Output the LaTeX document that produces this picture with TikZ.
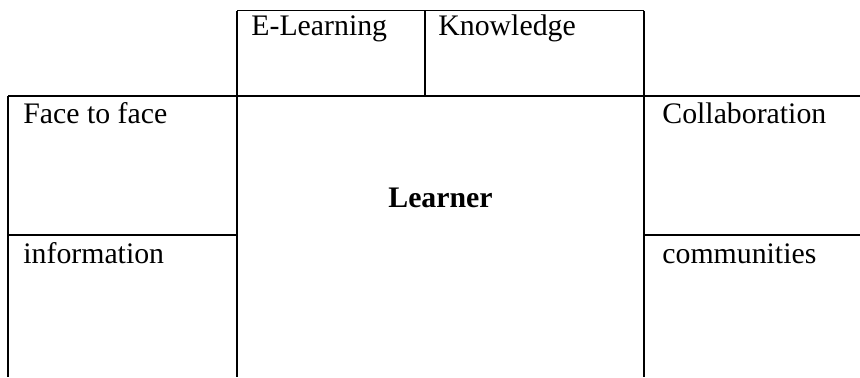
\documentclass[tikz,border=0pt]{standalone}
\usepackage{fontspec}
\setmainfont{Liberation Serif}
\tikzset{
  cell/.style={anchor=base west, inner sep=0pt, font=\fontsize{14.9}{18}\selectfont},
  grid/.style={line width=0.6pt}
}
\begin{document}
\begin{tikzpicture}[x=0.5pt,y=-0.5pt]
\useasboundingbox (0,0) rectangle (860,377);
% top boxes
\draw [grid] (237,10.5) -- (644,10.5);
\draw [grid] (425,10.5) -- (425,96);
\draw [grid, line width=1.1pt] (8,96) -- (860,96);
\draw [grid] (8,235) -- (237,235);
\draw [grid] (644,235) -- (860,235);
% verticals
\draw [grid] (8,96) -- (8,377);
\draw [grid] (237,10.5) -- (237,377);
\draw [grid] (644,10.5) -- (644,377);

      \node [cell] (elearn) at (251,35) {E-Learning};
      \node [cell] (know) at (438,35) {Knowledge};
      \node [cell] (face) at (23,123) {Face to face};
      \node [cell] (collab) at (662,123) {Collaboration};
      \node [cell] (info) at (23,263) {information};
      \node [cell] (comm) at (662,263) {communities};
      \node [cell, anchor=base, font=\fontsize{14.9}{18}\selectfont\bfseries] (learner) at (440.5,207) {Learner};
\end{tikzpicture}
\end{document}
